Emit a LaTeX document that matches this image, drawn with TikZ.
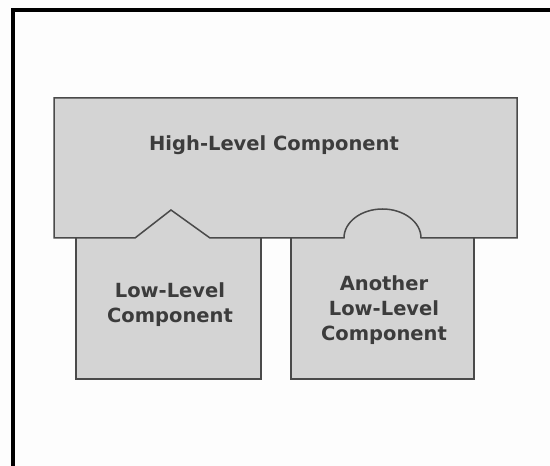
\documentclass[tikz,border=0pt]{standalone}
\usepackage{fontspec}
\setmainfont{DejaVu Sans}
\definecolor{bgc}{HTML}{FDFDFD}
\definecolor{boxfill}{HTML}{D4D4D4}
\definecolor{boxline}{HTML}{4A4A4A}
\definecolor{txt}{HTML}{3C3C3C}
\begin{document}
\begin{tikzpicture}[x=1pt,y=1pt,
  boxshape/.style={fill=boxfill,draw=boxline,line width=1.5pt,line join=miter},
  lbl/.style={text=txt,font=\bfseries\fontsize{19.5}{25}\selectfont,align=center,inner sep=0pt}]
\fill[bgc] (0,0) rectangle (550,466);
\useasboundingbox (0,0) rectangle (550,466);
% frame
\draw[line width=4pt,black] (13,0) -- (13,456) -- (550,456);
% low-level box 1 (with triangular tab)
\fill[boxfill] (76,228) -- (135,228) -- (171,256) -- (210,228) -- (261,228) -- (261,87) -- (76,87) -- cycle;
\draw[boxline,line width=1.5pt] (76,228) -- (76,87) -- (261,87) -- (261,228);
% low-level box 2 (with round tab)
\fill[boxfill] (291,228) -- (344,228) arc[start angle=180,end angle=0,x radius=38.5pt,y radius=29pt] -- (474,228) -- (474,87) -- (291,87) -- cycle;
\draw[boxline,line width=1.5pt] (291,228) -- (291,87) -- (474,87) -- (474,228);
% high-level box with notches
\draw[boxshape] (54,228) -- (54,368) -- (517,368) -- (517,228) -- (421,228)
  arc[start angle=0,end angle=180,x radius=38.5pt,y radius=29pt]
  -- (210,228) -- (171,256) -- (135,228) -- cycle;
% labels
\node[lbl] (high) at (274,321) {High-Level Component};
\node[lbl] (low1) at (170,161) {Low-Level\\Component};
\node[lbl] (low2) at (384,156) {Another\\Low-Level\\Component};
\end{tikzpicture}
\end{document}
